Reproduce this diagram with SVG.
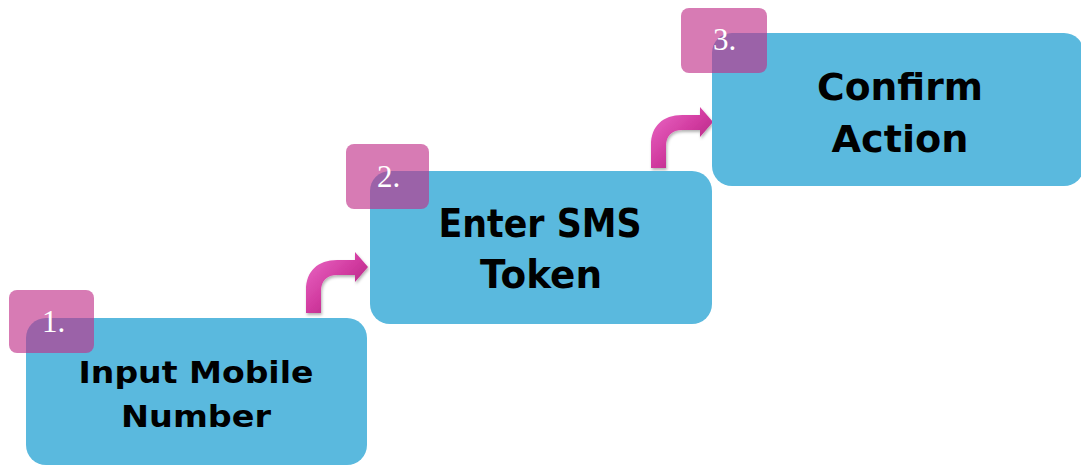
<svg xmlns="http://www.w3.org/2000/svg" width="1081" height="466" viewBox="0 0 1081 466">
<defs>
<style>
.box{fill:#5ab9de;}
.tag{fill:#c03189;fill-opacity:0.64;}
.lbl{font-family:"DejaVu Sans","Liberation Sans",sans-serif;font-weight:bold;fill:#000;text-anchor:middle;}
.num{font-family:"Liberation Serif","DejaVu Serif",serif;fill:#fff;font-size:31px;}
.arrow{fill:url(#ag);filter:url(#sh);}
</style>
<linearGradient id="ag" x1="0" y1="0" x2="1" y2="1">
<stop offset="0" stop-color="#ec6cc8"/>
<stop offset="0.5" stop-color="#d13a9f"/>
<stop offset="1" stop-color="#9e1f72"/>
</linearGradient>
<filter id="sh" x="-30%" y="-30%" width="160%" height="160%">
<feDropShadow dx="1" dy="2" stdDeviation="1.5" flood-color="#000" flood-opacity="0.3"/>
</filter>
<path id="arr" d="M306,313 L306,290 C306,271 318,260 337,260 L355,260 L355,252 L368,267 L355,282 L355,275 L337,275 C327,275 321,281 321,291 L321,313 Z"/>
</defs>
<rect width="1081" height="466" fill="#fff"/>
<g id="connectors">
<use href="#arr" class="arrow"/>
<use href="#arr" class="arrow" transform="translate(345,-145)"/>
</g>
<g id="node1">
<rect class="box" x="26" y="318" width="341" height="147" rx="20"/>
<rect class="tag" x="9" y="290" width="85" height="63" rx="8"/>
<text class="num" x="42" y="332">1.</text>
<text class="lbl" x="196" y="383" font-size="31" textLength="235" lengthAdjust="spacingAndGlyphs">Input Mobile</text>
<text class="lbl" x="196" y="427" font-size="31" textLength="150" lengthAdjust="spacingAndGlyphs">Number</text>
</g>
<g id="node2">
<rect class="box" x="370" y="171" width="342" height="153" rx="20"/>
<rect class="tag" x="346" y="144" width="83" height="65" rx="8"/>
<text class="num" x="377" y="187">2.</text>
<text class="lbl" x="540" y="237" font-size="39" textLength="203" lengthAdjust="spacingAndGlyphs">Enter SMS</text>
<text class="lbl" x="541" y="288" font-size="39" textLength="122" lengthAdjust="spacingAndGlyphs">Token</text>
</g>
<g id="node3">
<rect class="box" x="712" y="33" width="372" height="153" rx="20"/>
<rect class="tag" x="681" y="8" width="86" height="65" rx="8"/>
<text class="num" x="713" y="50">3.</text>
<text class="lbl" x="900" y="100" font-size="38" textLength="166" lengthAdjust="spacingAndGlyphs">Confirm</text>
<text class="lbl" x="900" y="152" font-size="38" textLength="137" lengthAdjust="spacingAndGlyphs">Action</text>
</g>
</svg>
